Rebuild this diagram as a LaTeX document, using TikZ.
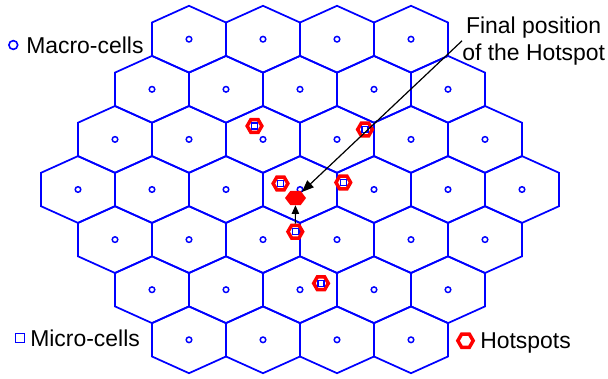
\documentclass[tikz,border=0pt]{standalone}
\usepackage{fontspec}
\setmainfont{Liberation Sans}
\usepackage{tikz}
\usetikzlibrary{shapes.geometric, arrows.meta}

\tikzset{
  cellline/.style={blue, line width=1.3pt},
  macro/.style={draw=blue, line width=1.1pt, circle, minimum size=4.2pt, inner sep=0pt},
  micro/.style={draw=blue, line width=1pt, minimum size=4.4pt, inner sep=0pt},
  hotspot/.style={draw=red, line width=2.6pt, regular polygon, regular polygon sides=6, minimum size=11pt, inner sep=0pt},
  lbl/.style={font=\fontsize{17.2}{20}\selectfont, inner sep=0pt, text=black}
}

\begin{document}
\begin{tikzpicture}[x=0.75pt, y=-0.75pt]
  \useasboundingbox (0,0) rectangle (608,379);

  % Macro-cell grid (7 rows, 4 to 7 cells)
  \foreach \r in {-3,...,3} {
    \pgfmathtruncatemacro\n{6-abs(\r)}
    \foreach \i in {0,...,\n} {
      \pgfmathsetmacro\cx{300+74*(\i-\n/2)}
      \pgfmathsetmacro\cy{189.5+50.1*\r}
      \draw[cellline] (\cx,\cy) +(0,-33.4) -- +(37,-16.7) -- +(37,16.7) -- +(0,33.4)
        -- +(-37,16.7) -- +(-37,-16.7) -- cycle;
      \node[macro] (bs\r\i) at (\cx,\cy) {};
    }
  }

  % Hotspots with their micro-cells
  \foreach \x/\y [count=\k] in {254.5/126, 365/129.5, 280.5/183.5, 343.3/182.5, 295.3/231.7, 321/283.3} {
    \node[hotspot] (hs\k) at (\x,\y) {};
    \node[micro] (mc\k) at (\x,\y) {};
  }

  % Final position of the moving hotspot
  \node[regular polygon, regular polygon sides=6, fill=red, draw=red, line width=2.2pt,
        minimum size=10pt, xscale=1.3, inner sep=0pt] (final) at (295.5,198) {};
  \draw[black, line width=0.9pt, -{Triangle[length=6.5pt, width=5.5pt]}] (hs5) -- (final);

  % Legend
  \node[draw=blue, line width=1.2pt, circle, minimum size=6.6pt, inner sep=0pt] (keymacro) at (13.3,45) {};
  \node[lbl, anchor=base west] (txtmacro) at (26,53) {Macro-cells};
  \node[draw=blue, line width=1.2pt, minimum size=6.5pt, inner sep=0pt] (keymicro) at (20,338) {};
  \node[lbl, anchor=base west] (txtmicro) at (30,346) {Micro-cells};
  \node[hotspot, minimum size=11.5pt] (keyhot) at (465.5,340.7) {};
  \node[lbl, anchor=base west] (txthot) at (480,348) {Hotspots};

  \node[lbl, align=center, anchor=north] (finaltxt) at (533.7,16.5) {Final position\\of the Hotspot};
  \draw[black, line width=0.9pt, -{Triangle[length=9pt, width=7pt]}] (finaltxt.west) -- (final);
\end{tikzpicture}
\end{document}
